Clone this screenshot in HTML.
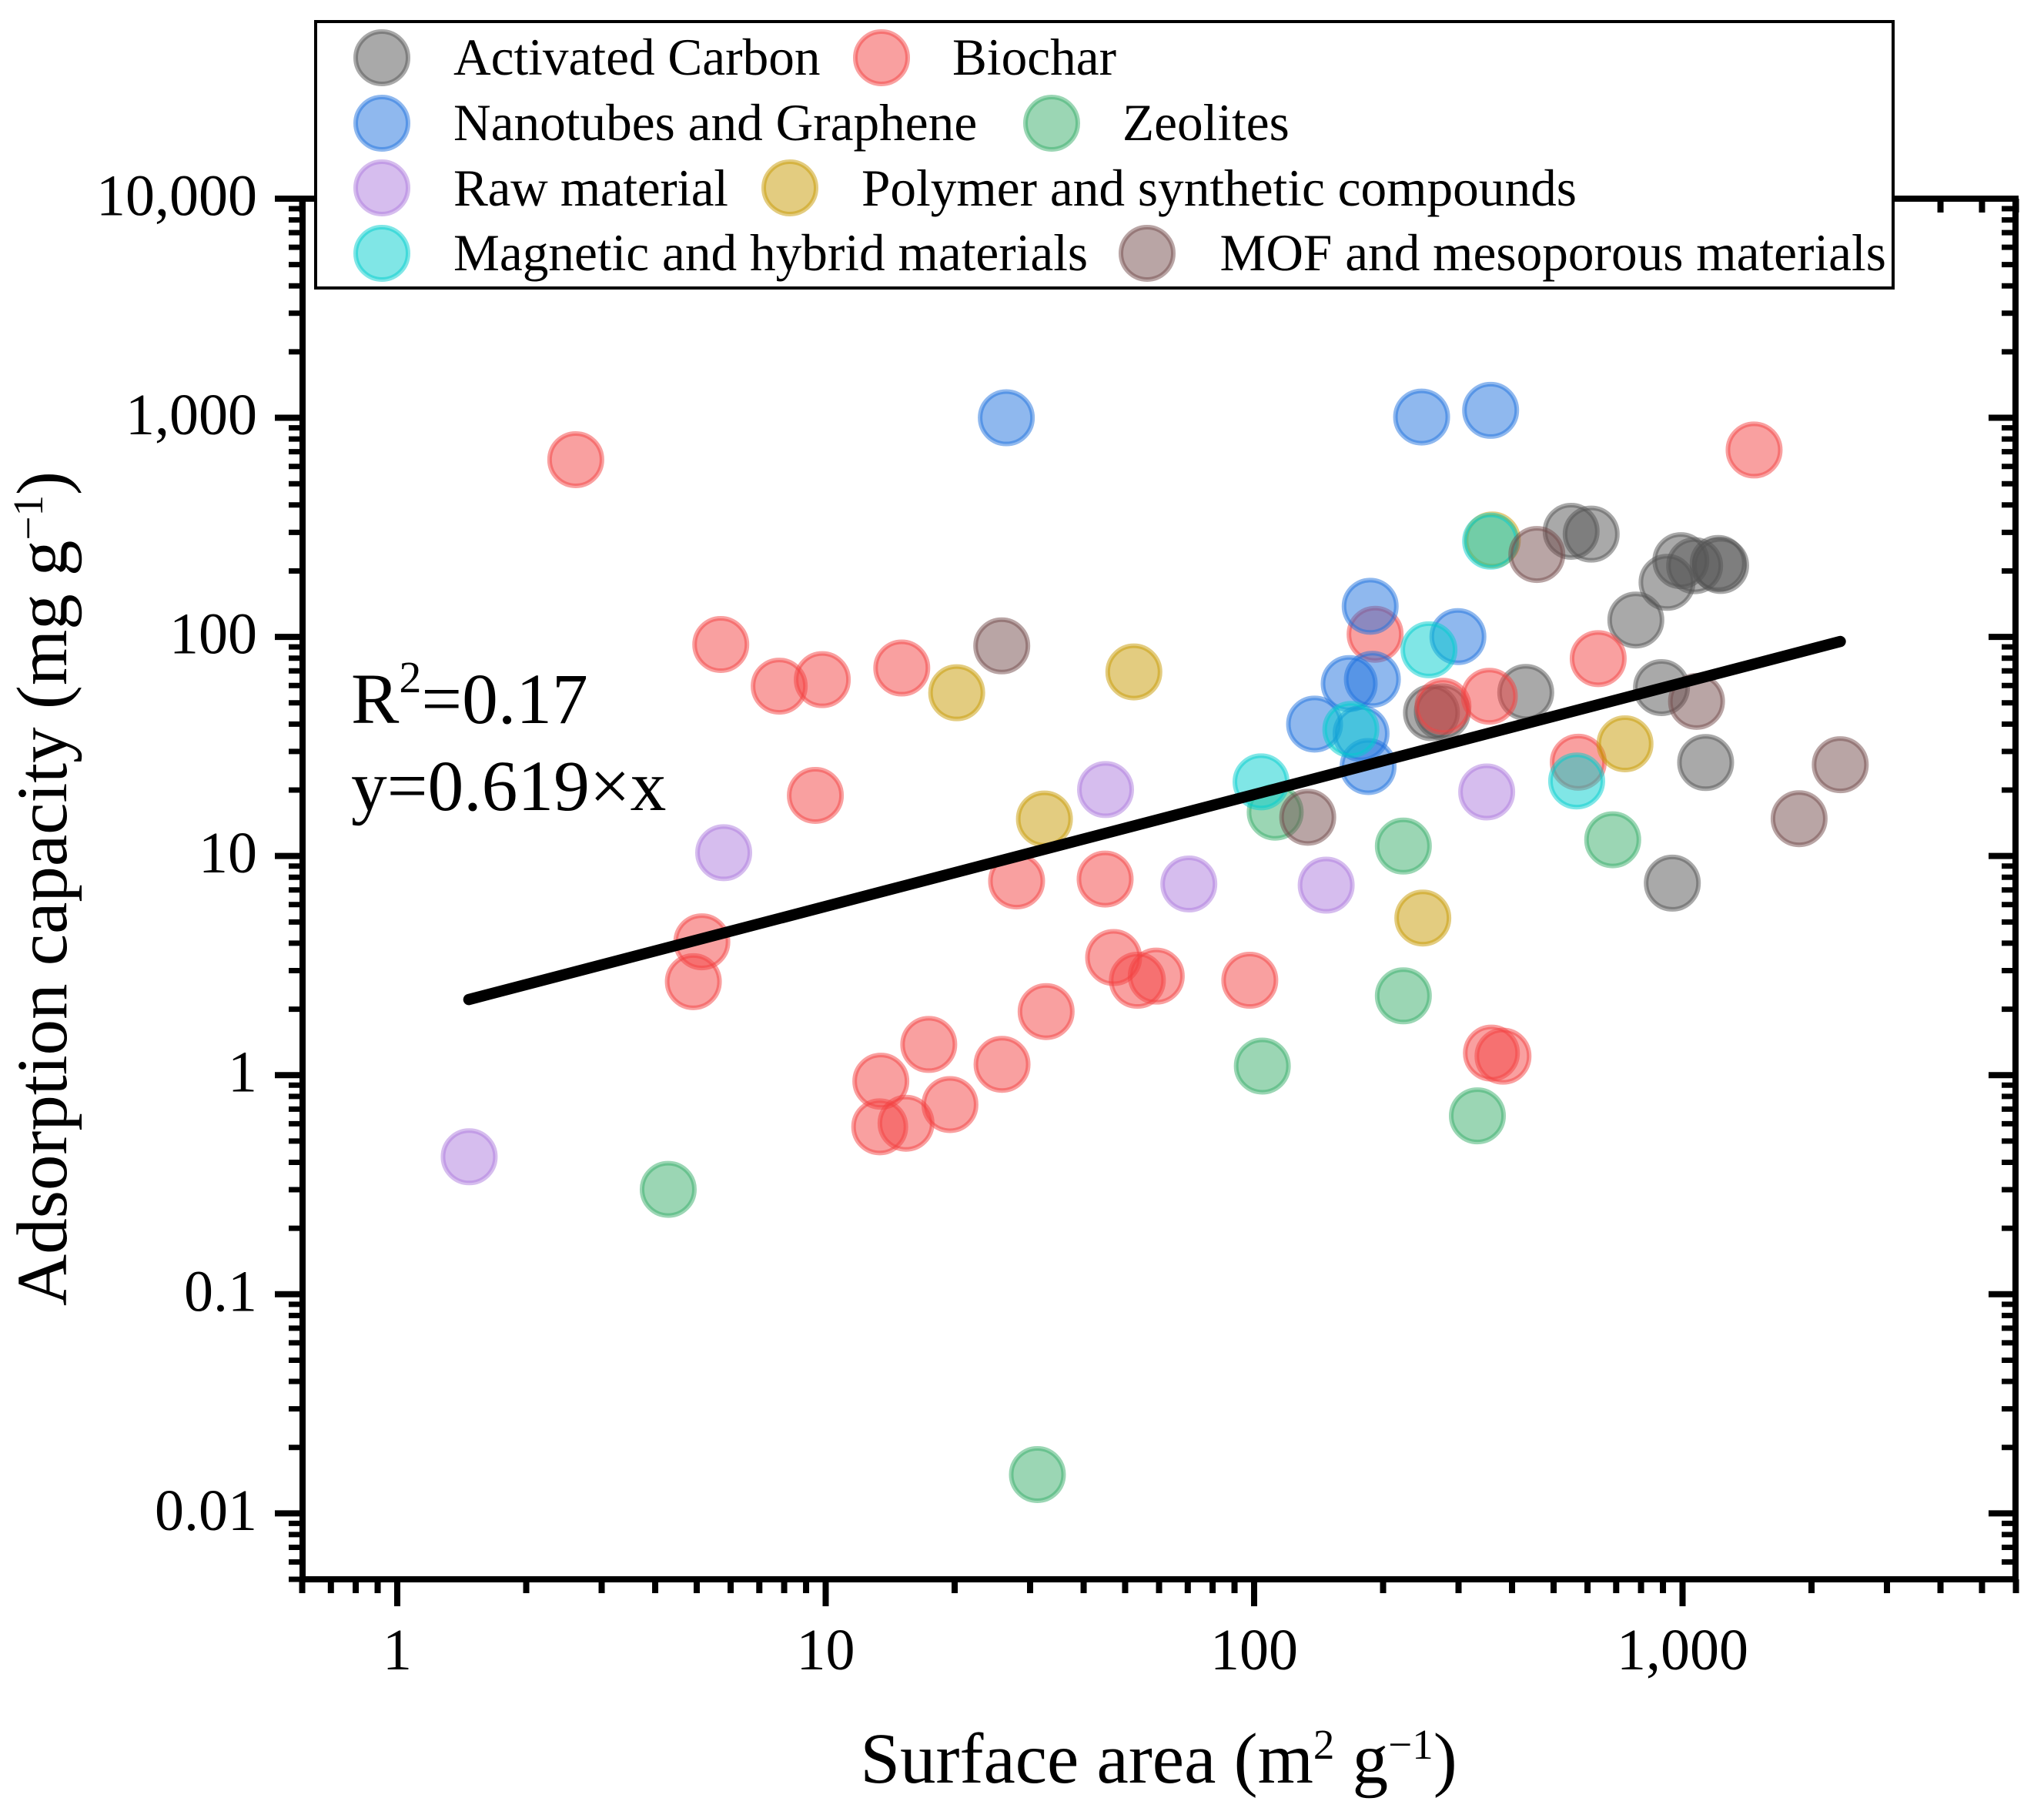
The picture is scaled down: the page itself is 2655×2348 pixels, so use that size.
<!DOCTYPE html>
<html lang="en">
<head>
<meta charset="utf-8">
<title>Adsorption capacity vs surface area</title>
<style>
html,body{margin:0;padding:0;background:#fff;}
svg{display:block;}
text{font-family:"Liberation Serif","Times New Roman",serif;fill:#000;}
</style>
</head>
<body>
<svg id="chart" xmlns="http://www.w3.org/2000/svg" width="2655" height="2348" viewBox="0 0 2655 2348">
  <rect x="0" y="0" width="2655" height="2348" fill="#fff"/>
  <g id="points"></g>
  <g id="ticks"></g>
  <rect x="393" y="258" width="2225" height="1793" fill="none" stroke="#000" stroke-width="8"/>
  <g id="trend"></g>
  <g id="tick-labels" font-size="76"></g>

  <text x="1505" y="2315" font-size="93" text-anchor="middle">Surface area (m<tspan font-size="55" dy="-31">2</tspan><tspan dy="31"> g</tspan><tspan font-size="55" dy="-31">−1</tspan><tspan dy="31">)</tspan></text>
  <text transform="translate(86 1154) rotate(-90)" x="0" y="0" font-size="93" text-anchor="middle">Adsorption capacity (mg g<tspan font-size="55" dy="-31">−1</tspan><tspan dy="31">)</tspan></text>

  <text x="456" y="939" font-size="93.5">R<tspan font-size="58" dy="-40">2</tspan><tspan dy="40">=0.17</tspan></text>
  <text x="456" y="1052" font-size="93.5">y=0.619×x</text>

  <g>
    <rect x="410" y="28" width="2049" height="346" fill="#fff" stroke="#000" stroke-width="4"/>
    <g>
      <circle cx="496" cy="75" r="34" fill="#535353" fill-opacity=".5" stroke="#535353" stroke-opacity=".5" stroke-width="6"/>
      <text x="589" y="97" font-size="67.3">Activated Carbon</text>
    </g>
    <g>
      <circle cx="1145" cy="75" r="34" fill="#f34141" fill-opacity=".5" stroke="#f34141" stroke-opacity=".5" stroke-width="6"/>
      <text x="1237" y="97" font-size="67.3">Biochar</text>
    </g>
    <g>
      <circle cx="496" cy="160" r="34" fill="#1f71dd" fill-opacity=".5" stroke="#1f71dd" stroke-opacity=".5" stroke-width="6"/>
      <text x="589" y="182" font-size="67.3">Nanotubes and Graphene</text>
    </g>
    <g>
      <circle cx="1366" cy="160" r="34" fill="#37ad69" fill-opacity=".5" stroke="#37ad69" stroke-opacity=".5" stroke-width="6"/>
      <text x="1458" y="182" font-size="67.3">Zeolites</text>
    </g>
    <g>
      <circle cx="496" cy="244" r="34" fill="#ad7bdd" fill-opacity=".5" stroke="#ad7bdd" stroke-opacity=".5" stroke-width="6"/>
      <text x="589" y="267" font-size="67.3" textLength="357" lengthAdjust="spacing">Raw material</text>
    </g>
    <g>
      <circle cx="1026" cy="244" r="34" fill="#c79901" fill-opacity=".5" stroke="#c79901" stroke-opacity=".5" stroke-width="6"/>
      <text x="1119" y="267" font-size="67.3">Polymer and synthetic compounds</text>
    </g>
    <g>
      <circle cx="496" cy="329" r="34" fill="#01cdcd" fill-opacity=".5" stroke="#01cdcd" stroke-opacity=".5" stroke-width="6"/>
      <text x="589" y="351" font-size="67.3">Magnetic and hybrid materials</text>
    </g>
    <g>
      <circle cx="1490" cy="329" r="34" fill="#734b4b" fill-opacity=".5" stroke="#734b4b" stroke-opacity=".5" stroke-width="6"/>
      <text x="1584.5" y="351" font-size="67.3">MOF and mesoporous materials</text>
    </g>
  </g>
</svg>
<script>
// Series values: surface area (m2/g) and adsorption capacity (mg/g)
const carbonX = [549.5,612,990.8,1067,1211,1227,920,778,430.5,893,1132,946.5,259.4,275];
const carbonY = [303.4,294.4,222.8,211.3,216.3,211.8,177.4,119.4,55.8,58.7,26.7,7.52,45.1,45.5];
const biocharX = [2.61,1469,5.69,7.79,9.82,15.05,9.46,191.6,276,354,635.5,571,27.9,44.9,5.14,4.91,47,53.4,59.1,97.7,32.7,17.4,25.8,13.45,13.37,15.4,19.5,358,381];
const biocharY = [644,712.8,92.3,59.6,63.8,72.1,18.9,102.8,48.2,53.6,79.6,26.8,7.69,7.85,4.06,2.67,3.44,2.71,2.83,2.71,1.95,1.38,1.12,0.938,0.581,0.603,0.734,1.26,1.22];
const nanotubeX = [26.4,246,356.5,186.6,299,166.7,188.8,138.4,177.7,184.5];
const nanotubeY = [1000,1008,1081,138,100.3,61.2,64,40,36.2,25.6];
const zeoliteX = [112,223,687,223,104.5,332,4.29,31.2];
const zeoliteY = [15.85,11.1,11.86,2.3,1.1,0.652,0.301,0.01503];
const rawX = [349,147.3,70.4,45,5.78,1.472];
const rawY = [19.6,7.36,7.45,20.1,10.35,0.424];
const polymerX = [359.7,734,247.6,20.22,52.4,32.4];
const polymerY = [277,32.5,5.21,55.6,69.2,14.76];
const magneticX = [356.5,255.9,168.2,103.8,566];
const magneticY = [273.5,87.3,37.8,21.8,22];
const mofX = [457,1078,2334,1871,133.4,25.76];
const mofY = [237.7,50.8,26.1,14.8,15.03,91];
const trendX = [1.469,2335];
const trendY = [2.213,95.3];

// Axis ticks
const xMajorTicks = [1,10,100,1000];
const xMajorLabels = ["1","10","100","1,000"];
const xMinorTicks = [0.6,0.7,0.8,0.9,2,3,4,5,6,7,8,9,20,30,40,50,60,70,80,90,200,300,400,500,600,700,800,900,2000,3000,4000,5000,6000];
const yMajorTicks = [0.01,0.1,1,10,100,1000,10000];
const yMajorLabels = ["0.01","0.1","1","10","100","1,000","10,000"];
const yMinorTicks = [0.005,0.006,0.007,0.008,0.009,0.02,0.03,0.04,0.05,0.06,0.07,0.08,0.09,0.2,0.3,0.4,0.5,0.6,0.7,0.8,0.9,2,3,4,5,6,7,8,9,20,30,40,50,60,70,80,90,200,300,400,500,600,700,800,900,2000,3000,4000,5000,6000,7000,8000,9000];

const NS = "http://www.w3.org/2000/svg";
function xScale(v){ return 516 + 556.5 * Math.log10(v); }
function yScale(v){ return 258 + 284.56 * (4 - Math.log10(v)); }

function addPoints(xs, ys, color, name){
  const layer = document.getElementById("points");
  xs.forEach(function(x, i){
    const c = document.createElementNS(NS, "circle");
    c.setAttribute("cx", xScale(x));
    c.setAttribute("cy", yScale(ys[i]));
    c.setAttribute("r", 34);
    c.setAttribute("fill", color);
    c.setAttribute("fill-opacity", ".5");
    c.setAttribute("stroke", color);
    c.setAttribute("stroke-opacity", ".5");
    c.setAttribute("stroke-width", 6);
    
    
    layer.appendChild(c);
  });
}
addPoints(carbonX, carbonY, "#535353", "point-activated-carbon");
addPoints(biocharX, biocharY, "#f34141", "point-biochar");
addPoints(nanotubeX, nanotubeY, "#1f71dd", "point-nanotubes-graphene");
addPoints(zeoliteX, zeoliteY, "#37ad69", "point-zeolite");
addPoints(rawX, rawY, "#ad7bdd", "point-raw-material");
addPoints(polymerX, polymerY, "#c79901", "point-polymer");
addPoints(magneticX, magneticY, "#01cdcd", "point-magnetic-hybrid");
addPoints(mofX, mofY, "#734b4b", "point-mof-mesoporous");

const trend = document.createElementNS(NS, "line");
trend.setAttribute("x1", xScale(trendX[0]));
trend.setAttribute("y1", yScale(trendY[0]));
trend.setAttribute("x2", xScale(trendX[1]));
trend.setAttribute("y2", yScale(trendY[1]));
trend.setAttribute("stroke", "#000");
trend.setAttribute("stroke-width", 14.5);
trend.setAttribute("stroke-linecap", "round");


document.getElementById("trend").appendChild(trend);

function tickLine(x1, y1, x2, y2, width, name){
  const l = document.createElementNS(NS, "line");
  l.setAttribute("x1", x1);
  l.setAttribute("y1", y1);
  l.setAttribute("x2", x2);
  l.setAttribute("y2", y2);
  l.setAttribute("stroke", "#000");
  l.setAttribute("stroke-width", width);
  
  
  document.getElementById("ticks").appendChild(l);
}
xMajorTicks.forEach(function(v){
  tickLine(xScale(v), 2051, xScale(v), 2086, 8, "x-major-tick");
  tickLine(xScale(v), 258, xScale(v), 293, 8, "x-top-major-tick");
});
xMinorTicks.forEach(function(v){
  tickLine(xScale(v), 2051, xScale(v), 2069, 8, "x-minor-tick");
  tickLine(xScale(v), 258, xScale(v), 276, 8, "x-top-minor-tick");
});
yMajorTicks.forEach(function(v){
  tickLine(357, yScale(v), 393, yScale(v), 8, "y-major-tick");
  tickLine(2583, yScale(v), 2618, yScale(v), 8, "y-right-major-tick");
});
yMinorTicks.forEach(function(v){
  tickLine(375, yScale(v), 393, yScale(v), 7, "y-minor-tick");
  tickLine(2600, yScale(v), 2618, yScale(v), 7, "y-right-minor-tick");
});

const labelLayer = document.getElementById("tick-labels");
xMajorTicks.forEach(function(v, i){
  const t = document.createElementNS(NS, "text");
  t.setAttribute("x", xScale(v));
  t.setAttribute("y", 2168);
  t.setAttribute("text-anchor", "middle");
  
  
  t.textContent = xMajorLabels[i];
  labelLayer.appendChild(t);
});
yMajorTicks.forEach(function(v, i){
  const t = document.createElementNS(NS, "text");
  t.setAttribute("x", 334);
  t.setAttribute("y", yScale(v) + 21.5);
  t.setAttribute("text-anchor", "end");
  
  
  t.textContent = yMajorLabels[i];
  labelLayer.appendChild(t);
});
</script>
</body>
</html>
